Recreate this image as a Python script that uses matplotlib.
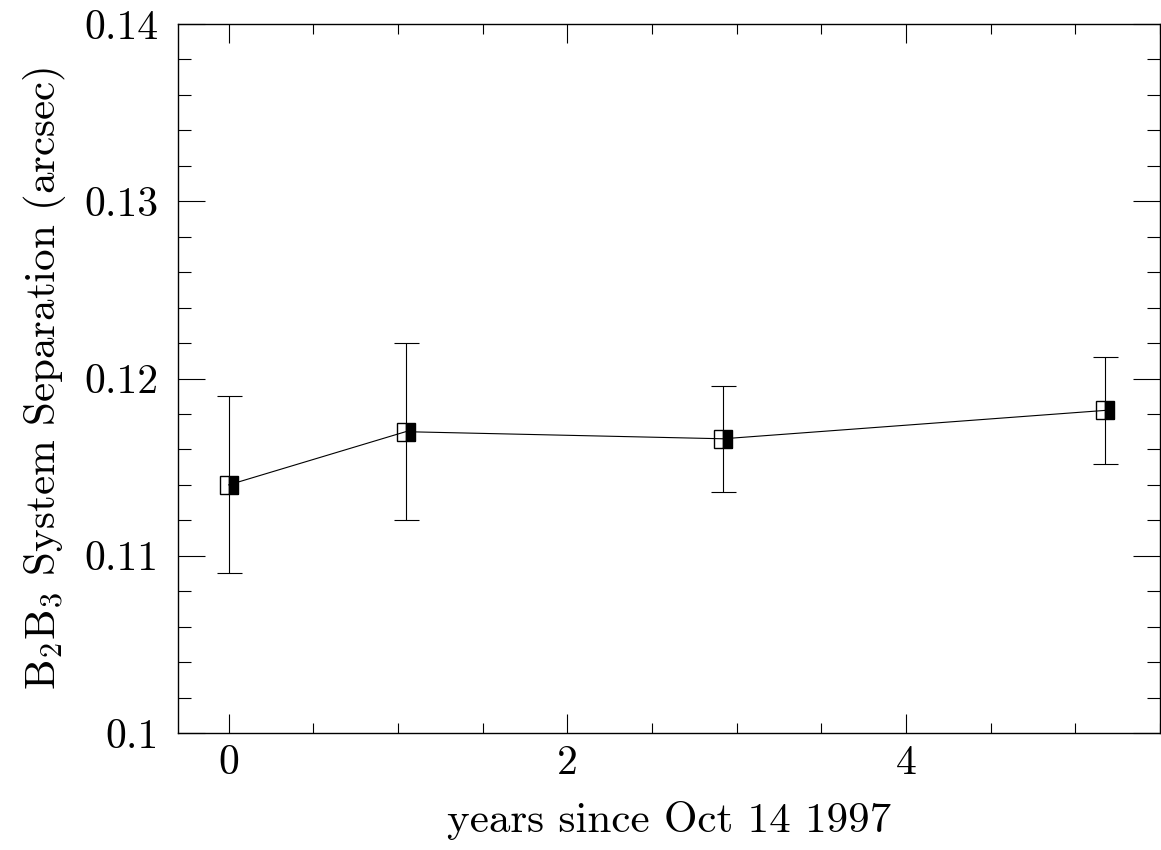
"""Separation of the B2B3 system over time."""

import matplotlib
matplotlib.use('Agg')
import matplotlib.pyplot as plt
from matplotlib.ticker import MultipleLocator, FixedLocator

years = [0.0, 1.045, 2.92, 5.175]
separation = [0.1140, 0.1170, 0.1166, 0.1182]
sep_err = [0.0050, 0.0050, 0.0030, 0.0030]

x_major = [0, 2, 4]
y_major = [0.10, 0.11, 0.12, 0.13, 0.14]
y_labels = ['0.1', '0.11', '0.12', '0.13', '0.14']

plt.rcParams['font.family'] = 'cmr10'
plt.rcParams['mathtext.fontset'] = 'cm'
plt.rcParams['axes.formatter.use_mathtext'] = True

fig = plt.figure(figsize=(11.61, 8.5), dpi=100)
ax = fig.add_axes([0.1533, 0.1376, 0.8458, 0.8342])

ax.errorbar(years, separation, yerr=sep_err, fmt='none', ecolor='black',
            elinewidth=0.8, capsize=9, capthick=0.8, zorder=2)
ax.plot(years, separation, color='black', lw=0.8, zorder=3,
        marker='s', markersize=13, fillstyle='right',
        markerfacecolor='black', markerfacecoloralt='none',
        markeredgecolor='black', markeredgewidth=1.0)

ax.set_xlim(-0.3, 5.5)
ax.set_ylim(0.10, 0.14)

ax.xaxis.set_major_locator(FixedLocator(x_major))
ax.xaxis.set_minor_locator(MultipleLocator(0.5))
ax.yaxis.set_major_locator(FixedLocator(y_major))
ax.yaxis.set_minor_locator(MultipleLocator(0.002))
ax.set_xticklabels([str(v) for v in x_major])
ax.set_yticklabels(y_labels)

ax.tick_params(axis='both', which='both', direction='in', top=True, right=True,
               width=0.8, labelsize=30)
ax.tick_params(axis='x', which='major', length=13.7, pad=8)
ax.tick_params(axis='x', which='minor', length=7.2)
ax.tick_params(axis='y', which='major', length=19.4, pad=14)
ax.tick_params(axis='y', which='minor', length=9.4)
for s in ax.spines.values():
    s.set_linewidth(1.0)

ax.set_xlabel('years since Oct 14 1997', fontsize=31, labelpad=14)
ax.set_ylabel(r'B$_2$B$_3$ System Separation (arcsec)', fontsize=31, labelpad=12)

fig.savefig('out.png', dpi=100)
